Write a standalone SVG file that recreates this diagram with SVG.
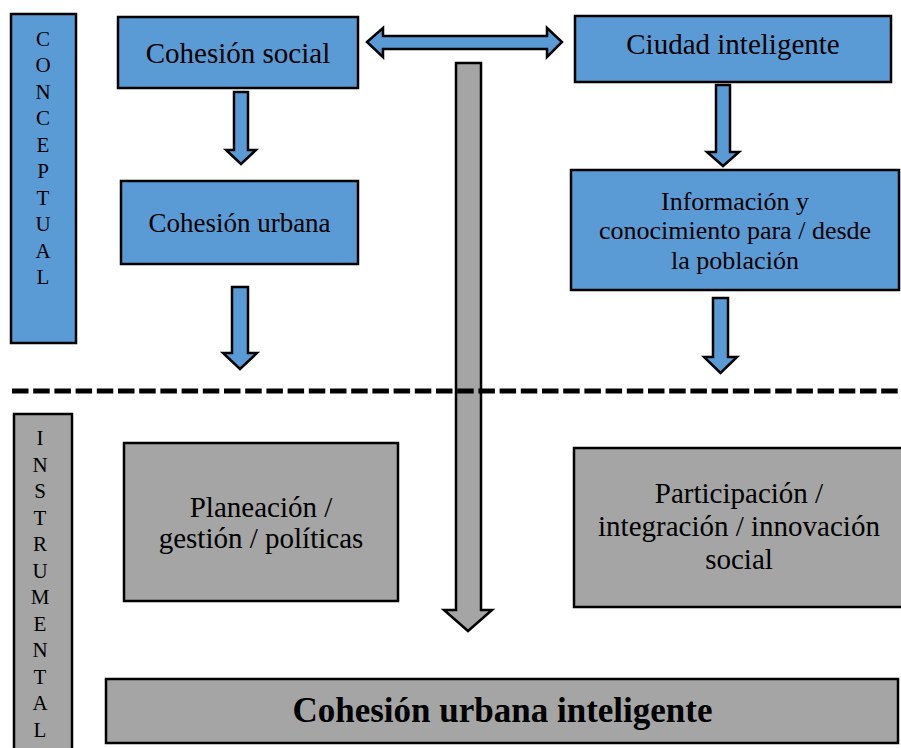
<svg xmlns="http://www.w3.org/2000/svg" width="901" height="748" viewBox="0 0 901 748">
  <style>
    .blue { fill: #5b9bd5; stroke: #000; stroke-width: 2.5; }
    .grey { fill: #a5a5a5; stroke: #000; stroke-width: 2.5; }
    text { font-family: 'Liberation Serif', 'DejaVu Serif', serif; fill: #000; text-anchor: middle; }
    .side { font-size: 21px; }
  </style>
  <rect width="901" height="748" fill="#fff"/>

  <!-- side band: conceptual -->
  <g id="conceptual">
    <rect class="blue" x="11" y="14" width="65" height="329"/>
    <text class="side" x="43"><tspan x="43" y="45.5">C</tspan><tspan x="43" y="72">O</tspan><tspan x="43" y="98.5">N</tspan><tspan x="43" y="125">C</tspan><tspan x="43" y="151.5">E</tspan><tspan x="43" y="178">P</tspan><tspan x="43" y="204.5">T</tspan><tspan x="43" y="231">U</tspan><tspan x="43" y="257.5">A</tspan><tspan x="43" y="284">L</tspan></text>
  </g>

  <!-- side band: instrumental -->
  <g id="instrumental">
    <rect class="grey" x="14" y="414" width="58" height="340"/>
    <text class="side" x="40"><tspan x="40" y="445">I</tspan><tspan x="40" y="471.5">N</tspan><tspan x="40" y="498">S</tspan><tspan x="40" y="524.5">T</tspan><tspan x="40" y="551">R</tspan><tspan x="40" y="577.5">U</tspan><tspan x="40" y="604">M</tspan><tspan x="40" y="630.5">E</tspan><tspan x="40" y="657">N</tspan><tspan x="40" y="683.5">T</tspan><tspan x="40" y="710">A</tspan><tspan x="40" y="736.5">L</tspan></text>
  </g>

  <g id="cohesion-social">
    <rect class="blue" x="118" y="17" width="240" height="71"/>
    <text x="238" y="63" font-size="29">Cohesión social</text>
  </g>

  <g id="ciudad-inteligente">
    <rect class="blue" x="575" y="16" width="316" height="66"/>
    <text x="733" y="54" font-size="29">Ciudad inteligente</text>
  </g>

  <g id="cohesion-urbana">
    <rect class="blue" x="121" y="181" width="237" height="83"/>
    <text x="239.5" y="232" font-size="27">Cohesión urbana</text>
  </g>

  <g id="informacion">
    <rect class="blue" x="571" y="170" width="328" height="120"/>
    <text font-size="26"><tspan x="735" y="210">Información y</tspan><tspan x="735" y="239">conocimiento para / desde</tspan><tspan x="735" y="269">la población</tspan></text>
  </g>

  <g id="planeacion">
    <rect class="grey" x="124" y="443" width="274" height="158"/>
    <text font-size="29"><tspan x="261" y="517">Planeación /</tspan><tspan x="261" y="548">gestión / políticas</tspan></text>
  </g>

  <g id="participacion">
    <rect class="grey" x="574" y="448" width="332" height="159"/>
    <text font-size="29"><tspan x="739" y="503">Participación /</tspan><tspan x="739" y="536">integración / innovación</tspan><tspan x="739" y="569">social</tspan></text>
  </g>

  <g id="cohesion-urbana-inteligente">
    <rect class="grey" x="106" y="679" width="792" height="64"/>
    <text x="502.5" y="722" font-size="35" font-weight="bold">Cohesión urbana inteligente</text>
  </g>

  <!-- block arrows -->
  <g id="connectors">
    <polygon class="blue" points="367,42 383,28 383,36 547,36 547,28 562,42 547,57 547,49 383,49 383,57"/>
    <polygon class="blue" points="234,92 248,92 248,150 256,150 241,164 226,150 234,150"/>
    <polygon class="blue" points="716,85 730,85 730,152 739,152 723,166 707,152 716,152"/>
    <polygon class="blue" points="232,287 248,287 248,353 257,353 240,369 223,353 232,353"/>
    <polygon class="blue" points="713,298 728,298 728,357 737,357 720.5,373 704,357 713,357"/>
    <polygon class="grey" points="456,63 481,63 481,610 492,610 468,631 444,610 456,610"/>
  </g>

  <!-- divider between the two levels -->
  <line x1="12" y1="391" x2="901" y2="391" stroke="#000" stroke-width="5" stroke-dasharray="16.5 4.7"/>
</svg>
